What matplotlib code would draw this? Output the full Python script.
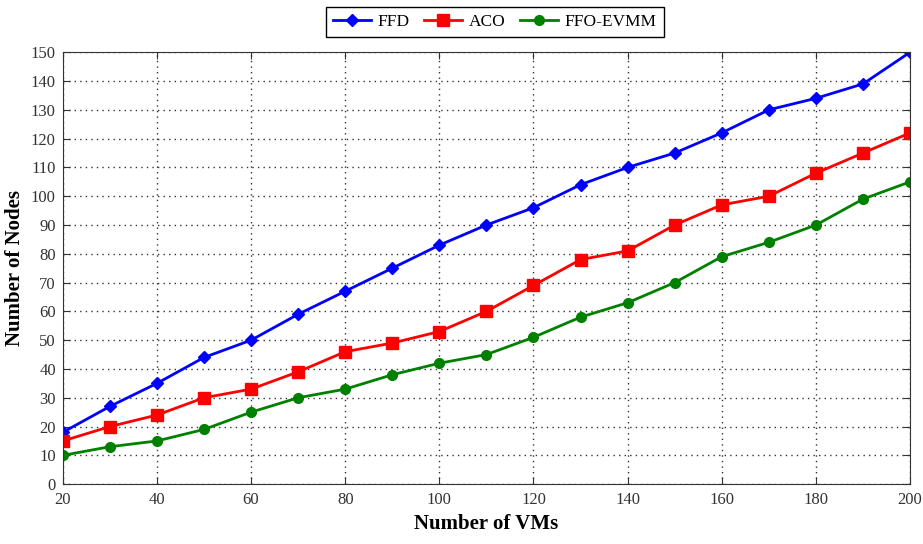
import numpy as np
import matplotlib.pyplot as plt

vms = [20, 30, 40, 50, 60, 70, 80, 90, 100, 110, 120, 130, 140, 150, 160, 170, 180, 190, 200]
ffd = [18, 27, 35, 44, 50, 59, 67, 75, 83, 90, 96, 104, 110, 115, 122, 130, 134, 139, 150]
aco = [15, 20, 24, 30, 33, 39, 46, 49, 53, 60, 69, 78, 81, 90, 97, 100, 108, 115, 122]
ffo_evmm = [10, 13, 15, 19, 25, 30, 33, 38, 42, 45, 51, 58, 63, 70, 79, 84, 90, 99, 105]

plt.rcParams['font.family'] = ['Liberation Serif', 'DejaVu Serif']

fig = plt.figure(figsize=(9.23, 5.44), dpi=100)
ax = fig.add_axes([0.068, 0.110, 0.918, 0.794])

ax.plot(vms, ffd, marker='D', color='b', linewidth=2, markersize=6, label='FFD')
ax.plot(vms, aco, marker='s', color='r', linewidth=2, markersize=8, label='ACO')
ax.plot(vms, ffo_evmm, marker='o', color='g', linewidth=2, markersize=7, label='FFO-EVMM')

ax.set_xlim(20, 200)
ax.set_ylim(0, 150)
ax.set_xticks(np.arange(20, 201, 20))
ax.set_yticks(np.arange(0, 151, 10))
ax.tick_params(direction='in', top=True, right=True, labelsize=12, length=5, colors='#333333')
ax.tick_params(axis='x', pad=6)
ax.tick_params(axis='y', pad=5)
ax.grid(True, linestyle=(0, (1, 3)), color='#333333', linewidth=1)
for s in ax.spines.values():
    s.set_color('#333333')

ax.set_xlabel("Number of VMs", fontsize=15, fontweight='bold')
ax.set_ylabel("Number of Nodes", fontsize=15, fontweight='bold')

fig.legend(loc='center', bbox_to_anchor=(0.536, 0.959), ncol=3, fontsize=12.5,
           fancybox=False, edgecolor='k', framealpha=1, handlelength=2.2,
           columnspacing=0.8, handletextpad=0.4, borderpad=0.4)

fig.savefig('out.png', dpi=100)
